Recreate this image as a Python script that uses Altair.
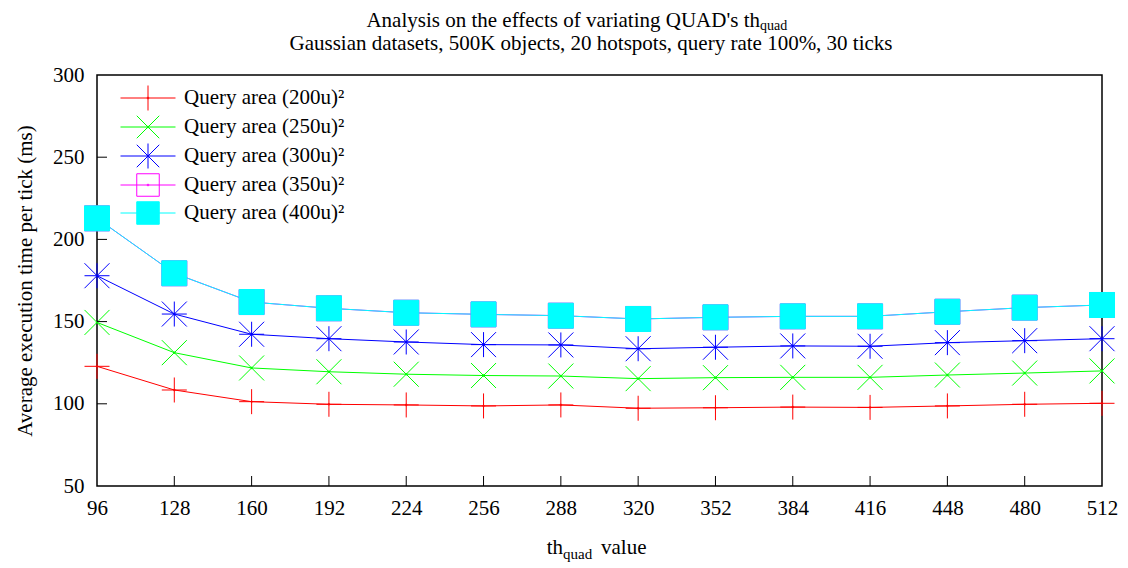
import altair as alt
import pandas as pd

x_vals = [96, 128, 160, 192, 224, 256, 288, 320, 352, 384, 416, 448, 480, 512]
q200 = [122.8, 108.4, 101.3, 99.7, 99.3, 98.7, 99.3, 97.3, 97.6, 98.0, 97.8, 98.7, 99.7, 100.3]
q250 = [149.5, 131.1, 121.8, 119.5, 118.0, 117.2, 116.9, 115.3, 115.9, 116.1, 116.1, 117.5, 118.7, 120.0]
q300 = [177.9, 154.6, 142.3, 139.6, 137.6, 136.0, 135.8, 133.5, 134.4, 135.2, 135.0, 137.2, 138.4, 139.6]
q350 = [212.8, 179.4, 161.9, 158.1, 155.4, 154.4, 153.6, 151.6, 152.6, 153.2, 153.2, 156.0, 158.5, 160.1]
q400 = [212.8, 179.4, 161.9, 158.1, 155.4, 154.4, 153.6, 151.6, 152.6, 153.2, 153.2, 156.0, 158.5, 160.1]

series_names = ["Query area (200u)²", "Query area (250u)²", "Query area (300u)²",
                "Query area (350u)²", "Query area (400u)²"]
series_values = [q200, q250, q300, q350, q400]
colors = ["#ff0000", "#00ff00", "#0000ff", "#ff00ff", "#00ffff"]
fills = ["transparent", "transparent", "transparent", "transparent", "#00ffff"]

x_ticks = [96, 128, 160, 192, 224, 256, 288, 320, 352, 384, 416, 448, 480, 512]
y_ticks = [50, 100, 150, 200, 250, 300]
inner_x_ticks = x_ticks[1:-1]
inner_y_ticks = y_ticks[1:-1]

DOT = "M-0.1,0L0.1,0M0,-0.1L0,0.1"
marker_paths = [
    "M-1,0L1,0M0,-1L0,1" + DOT,
    "M-1,-1L1,1M-1,1L1,-1" + DOT,
    "M-1,-1L1,1M-1,1L1,-1M-1,0L1,0M0,-1L0,1" + DOT,
    "M-1,-1L1,-1L1,1L-1,1Z" + DOT,
    "M-1,-1L1,-1L1,1L-1,1Z",
]
legend_paths = [
    "M-2.2,0L2.2,0M0,-1L0,1" + DOT,
    "M-2.2,0L2.2,0M-0.9,-0.9L0.9,0.9M-0.9,0.9L0.9,-0.9" + DOT,
    "M-2.2,0L2.2,0M-0.9,-0.9L0.9,0.9M-0.9,0.9L0.9,-0.9M0,-1L0,1" + DOT,
    "M-2.2,0L2.2,0M-0.9,-0.9L0.9,-0.9L0.9,0.9L-0.9,0.9Z" + DOT,
    "M-2.2,0L2.2,0M-0.9,-0.9L0.9,-0.9L0.9,0.9L-0.9,0.9Z",
]

rows = []
for name, vals in zip(series_names, series_values):
    for xv, yv in zip(x_vals, vals):
        rows.append({"x": xv, "value": yv, "series": name})
df = pd.DataFrame(rows)

FONT = "Liberation Serif"
FS = 21
W, H = 1005, 411

xscale = alt.Scale(domain=[96, 512], nice=False, zero=False)
yscale = alt.Scale(domain=[50, 300], nice=False, zero=False)

x_axis = alt.Axis(values=x_ticks, title=None, grid=False, domain=False, ticks=False,
                  labelFont=FONT, labelFontSize=FS, labelColor="#000", labelFlush=False,
                  labelPadding=11, format="d")
y_axis = alt.Axis(values=y_ticks, title="Average execution time per tick (ms)",
                  grid=False, domain=False, ticks=False, labelFlush=False,
                  labelFont=FONT, labelFontSize=FS, labelColor="#000", labelPadding=13,
                  titleFont=FONT, titleFontSize=21, titleFontWeight="normal",
                  titleColor="#000", titlePadding=17)

def X(field):
    return alt.X(field, scale=xscale, axis=x_axis)

def Y(field):
    return alt.Y(field, scale=yscale, axis=y_axis)

base = alt.Chart(df)

lines = base.mark_line(strokeWidth=1).encode(
    x=X("x:Q"), y=Y("value:Q"),
    stroke=alt.Stroke("series:N", scale=alt.Scale(domain=series_names, range=colors), legend=None),
    order=alt.Order("x:Q"),
)

points = base.mark_point(size=625, strokeWidth=1, opacity=1).encode(
    x=X("x:Q"), y=Y("value:Q"),
    stroke=alt.Stroke("series:N", scale=alt.Scale(domain=series_names, range=colors), legend=None),
    fill=alt.Fill("series:N", scale=alt.Scale(domain=series_names, range=fills), legend=None),
    shape=alt.Shape("series:N", scale=alt.Scale(domain=series_names, range=marker_paths), legend=None),
)

leg = alt.Legend(
    title=None, orient="none", legendX=38, legendY=10,
    labelFont=FONT, labelFontSize=FS, labelColor="#000", labelOffset=23,
    symbolSize=625, symbolStrokeWidth=1, rowPadding=0, labelLimit=400,
    symbolOpacity=1,
)
legend_layer = base.transform_filter("datum.value < 0").mark_point(size=625, strokeWidth=1, opacity=1).encode(
    x=X("x:Q"), y=Y("value:Q"),
    stroke=alt.Stroke("series:N", scale=alt.Scale(domain=series_names, range=colors), legend=leg),
    fill=alt.Fill("series:N", scale=alt.Scale(domain=series_names, range=fills), legend=leg),
    shape=alt.Shape("series:N", scale=alt.Scale(domain=series_names, range=legend_paths), legend=leg),
)

xt = alt.Chart(pd.DataFrame({"x": inner_x_ticks})).mark_rule(color="#000", strokeWidth=1).encode(
    x=X("x:Q"), y=alt.value(H), y2=alt.value(H - 10)
)
yt = alt.Chart(pd.DataFrame({"value": inner_y_ticks})).mark_rule(color="#000", strokeWidth=1).encode(
    y=Y("value:Q"), x=alt.value(0), x2=alt.value(10)
)

one = pd.DataFrame({"k": [0]})
def txt(s, x, y, size, align):
    return alt.Chart(one).mark_text(text=s, font=FONT, fontSize=size, color="#000",
                                    align=align, baseline="middle").encode(
        x=alt.value(x), y=alt.value(y))

title1 = txt("Analysis on the effects of variating QUAD's th", 663, -54, FS, "right")
title1s = txt("quad", 663, -49, 14, "left")
title2 = txt("Gaussian datasets, 500K objects, 20 hotspots, query rate 100%, 30 ticks", 494, -31, FS, "center")
xt1 = txt("th", 466, 473, FS, "right")
xt1s = txt("quad", 466, 479, 15, "left")
xt2 = txt("value", 504, 473, FS, "left")

chart = alt.layer(
    lines, points, legend_layer, xt, yt,
    title1, title1s, title2, xt1, xt1s, xt2
).resolve_scale(
    stroke="independent", fill="independent", shape="independent"
).properties(
    width=W, height=H,
    background="white",
    autosize=alt.AutoSizeParams(type="none"),
    padding={"left": 89, "top": 67, "right": 16, "bottom": 80},
).configure_view(stroke="#000", strokeWidth=1.5)

chart.save("out.html", embed_options={"renderer": "svg", "actions": False})
